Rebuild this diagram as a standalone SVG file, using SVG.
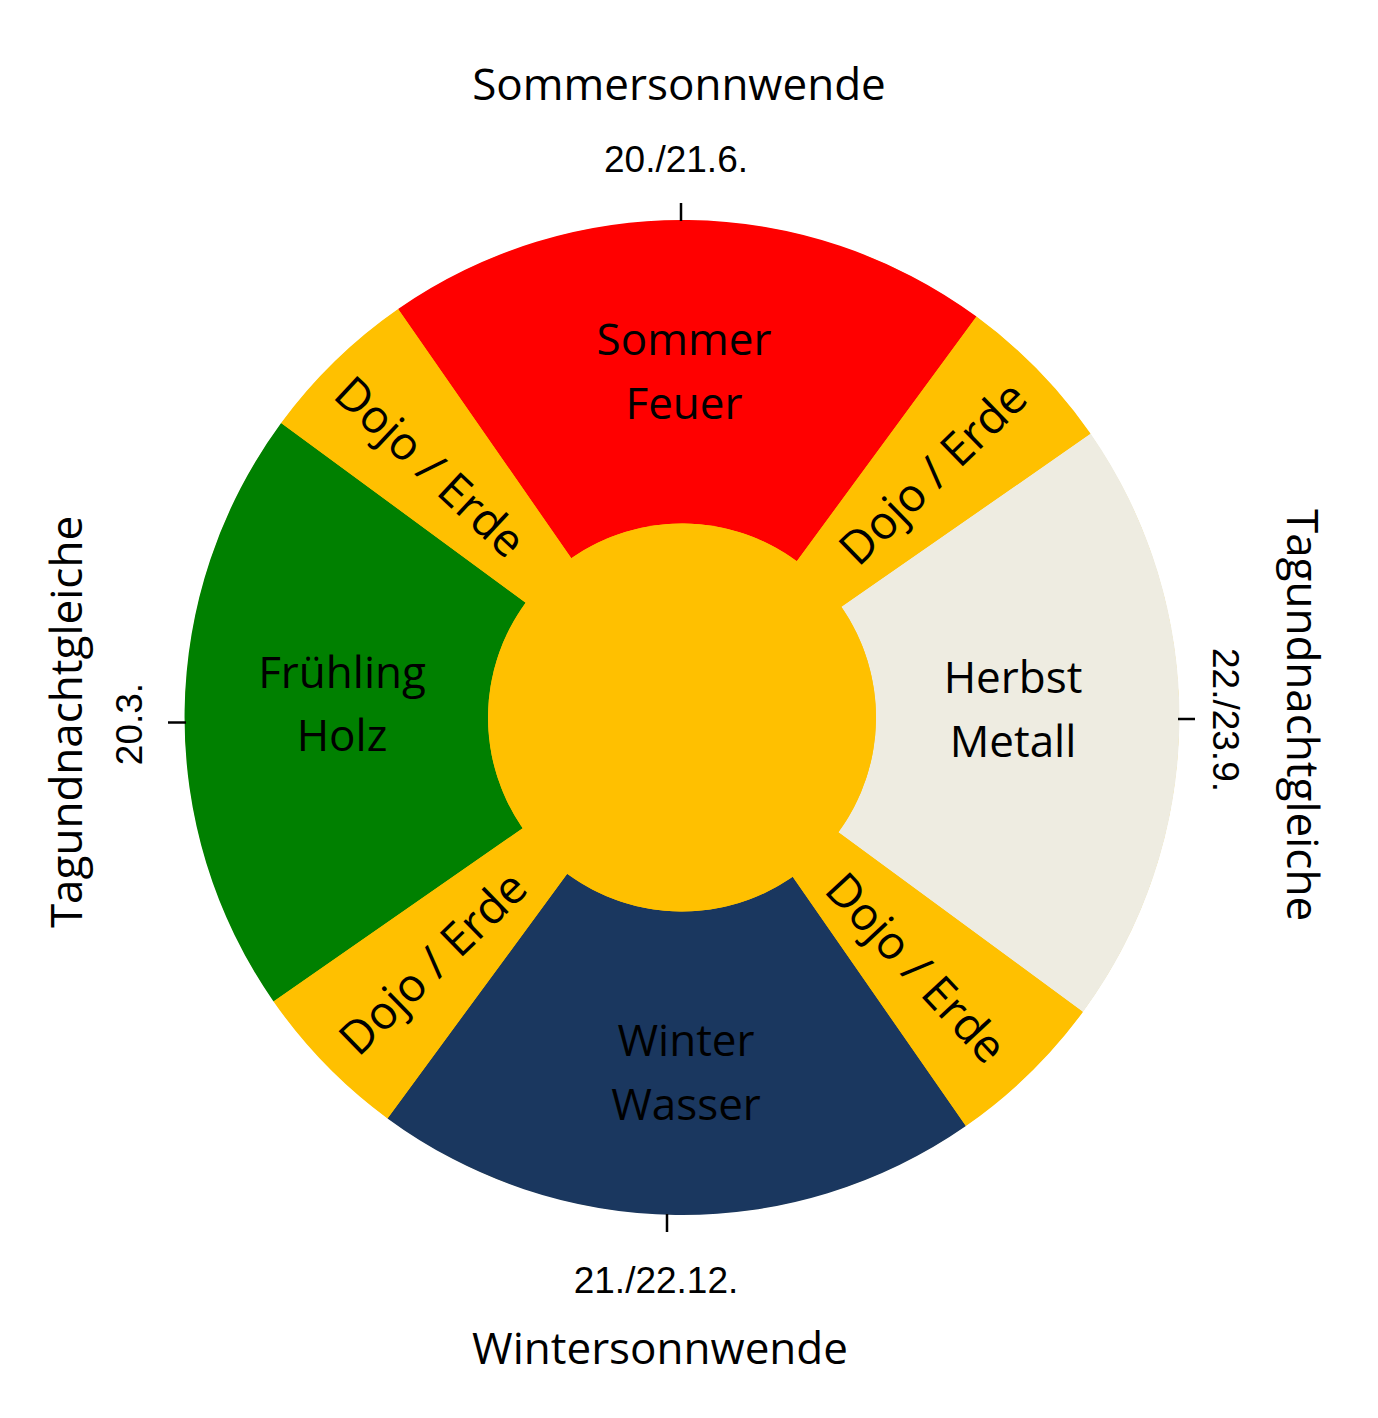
<svg xmlns="http://www.w3.org/2000/svg" width="1378" height="1418" viewBox="0 0 1378 1418">
<style>
.lbl{font-family:"Open Sans","Noto Sans",sans-serif;font-size:44px;fill:#000;text-anchor:middle}
.dj{font-size:46px}
.date{font-family:"Liberation Sans",Arial,sans-serif;font-size:37px;fill:#000;text-anchor:middle}
.tick{stroke:#000;stroke-width:2.5}
.dojo{fill:#FFC000}
</style>
<rect width="1378" height="1418" fill="#fff"/>
<circle cx="682" cy="717.5" r="497" fill="#FFC000"/>
<g id="sommer">
<path d="M398.1,309.0 A497.5,497.5 0 0 1 976.5,316.6 L796.8,561.2 A194,194 0 0 0 571.3,558.2 Z" fill="#FF0000"/>
<text class="lbl" x="684" y="355">Sommer</text>
<text class="lbl" x="684" y="419">Feuer</text>
</g>
<g id="herbst">
<path d="M1090.5,433.6 A497.5,497.5 0 0 1 1082.9,1012.0 L838.3,832.3 A194,194 0 0 0 841.3,606.8 Z" fill="#EEECE1"/>
<text class="lbl" x="1013" y="693">Herbst</text>
<text class="lbl" x="1013" y="757">Metall</text>
</g>
<g id="winter">
<path d="M965.9,1126.0 A497.5,497.5 0 0 1 387.5,1118.4 L567.2,873.8 A194,194 0 0 0 792.7,876.8 Z" fill="#1A375F"/>
<text class="lbl" x="686" y="1056">Winter</text>
<text class="lbl" x="686" y="1120">Wasser</text>
</g>
<g id="fruehling">
<path d="M273.5,1001.4 A497.5,497.5 0 0 1 281.1,423.0 L525.7,602.7 A194,194 0 0 0 522.7,828.2 Z" fill="#008000"/>
<text class="lbl" x="342" y="688">Frühling</text>
<text class="lbl" x="342" y="751">Holz</text>
</g>
<g id="dojo-ne">
<path class="dojo" d="M976.5,316.6 A497.5,497.5 0 0 1 1090.5,433.6 L841.3,606.8 A194,194 0 0 0 796.8,561.2 Z"/>
<text class="lbl dj" transform="translate(933,473) rotate(-44.2)" x="0" y="16">Dojo / Erde</text>
</g>
<g id="dojo-se">
<path class="dojo" d="M1082.9,1012.0 A497.5,497.5 0 0 1 965.9,1126.0 L792.7,876.8 A194,194 0 0 0 838.3,832.3 Z"/>
<text class="lbl dj" transform="translate(916,968) rotate(47)" x="0" y="16">Dojo / Erde</text>
</g>
<g id="dojo-sw">
<path class="dojo" d="M387.5,1118.4 A497.5,497.5 0 0 1 273.5,1001.4 L522.7,828.2 A194,194 0 0 0 567.2,873.8 Z"/>
<text class="lbl dj" transform="translate(433,963) rotate(-44.2)" x="0" y="16">Dojo / Erde</text>
</g>
<g id="dojo-nw">
<path class="dojo" d="M281.1,423.0 A497.5,497.5 0 0 1 398.1,309.0 L571.3,558.2 A194,194 0 0 0 525.7,602.7 Z"/>
<text class="lbl dj" transform="translate(430,467) rotate(43)" x="0" y="16">Dojo / Erde</text>
</g>
<g id="center">
<circle cx="682" cy="717.5" r="194" fill="#FFC000"/>
</g>
<g id="ticks">
<line class="tick" x1="681" y1="203" x2="681" y2="221"/>
<line class="tick" x1="667" y1="1214" x2="667" y2="1232"/>
<line class="tick" x1="168" y1="722.5" x2="186" y2="722.5"/>
<line class="tick" x1="1178" y1="719" x2="1195" y2="719"/>
</g>
<g id="outer-labels">
<text class="lbl" x="679" y="100">Sommersonnwende</text>
<text class="date" x="676" y="172">20./21.6.</text>
<text class="date" x="656" y="1293">21./22.12.</text>
<text class="lbl" x="660" y="1364">Wintersonnwende</text>
<text class="lbl" transform="translate(82,722) rotate(-90)">Tagundnachtgleiche</text>
<text class="date" transform="translate(142,724) rotate(-90)">20.3.</text>
<text class="lbl" transform="translate(1287,715) rotate(90)">Tagundnachtgleiche</text>
<text class="date" transform="translate(1213,720) rotate(90)">22./23.9.</text>
</g>
</svg>
